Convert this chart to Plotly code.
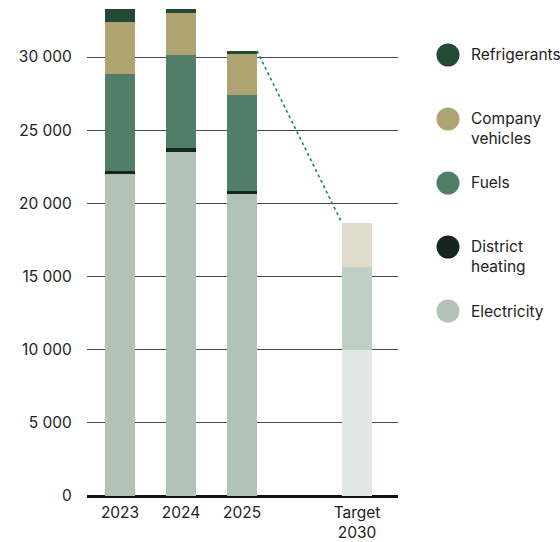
import plotly.graph_objects as go

# Emissions by source (tCO2e)
years = ["2023", "2024", "2025"]
electricity = [22000, 23510, 20640]
district_heating = [215, 280, 210]
fuels = [6650, 6350, 6560]
company_vehicles = [3530, 2870, 2800]
refrigerants = [1000, 400, 210]

# 2030 target split
target_label = "Target<br>2030"
target_parts = [10000, 5650, 3000]

series_names = ["Electricity", "District heating", "Fuels", "Company vehicles", "Refrigerants"]
series_values = [electricity, district_heating, fuels, company_vehicles, refrigerants]
series_colors = ["#b1c3b9", "#14271e", "#517e69", "#b0a372", "#234a35"]
target_colors = ["#e2e8e5", "#c0cfc6", "#dfdccb"]

# horizontal slots for the bars
year_slots = [0, 1, 2]
target_slot = 3.885
bar_w = 0.492

FONT = "Inter"
FS = 15.5
TXT = "#222222"

W, H = 560, 542
ML, MR, MT, MB = 87, 162, 9, 46
PW, PH = W - ML - MR, H - MT - MB

fig = go.Figure()

for name, vals, col in zip(series_names, series_values, series_colors):
    fig.add_trace(go.Bar(
        x=year_slots, y=vals, name=name, marker=dict(color=col, line=dict(width=0)),
        width=bar_w, showlegend=False, hoverinfo="y+name",
    ))

for part, col in zip(target_parts, target_colors):
    fig.add_trace(go.Bar(
        x=[target_slot], y=[part], marker=dict(color=col, line=dict(width=0)),
        width=bar_w, showlegend=False, hoverinfo="y",
    ))

# dashed connector from the latest year to the target
last_total = sum(v[-1] for v in series_values)
target_total = sum(target_parts)
fig.add_trace(go.Scatter(
    x=[year_slots[-1] + bar_w / 2, target_slot - bar_w / 2],
    y=[last_total, target_total],
    mode="lines", line=dict(color="#1b8a5a", width=1.6, dash="3px,3px"),
    showlegend=False, hoverinfo="skip",
))

# legend: circles with labels, top entry first; the first text line sits level with the circle
legend_items = list(zip(series_names, series_colors))[::-1]
legend_text = ["Refrigerants", "Company<br>vehicles", "Fuels", "District<br>heating", "Electricity"]
y0_px, step_px = 55, 64
line_px = 19.5
r = 11.5
for i, ((name, col), txt) in enumerate(zip(legend_items, legend_text)):
    cy = y0_px + i * step_px
    n_lines = txt.count("<br>") + 1
    ty = cy + (n_lines - 1) * line_px / 2
    fig.add_shape(
        type="circle", xref="paper", yref="paper",
        x0=(448 - r - ML) / PW, x1=(448 + r - ML) / PW,
        y0=(H - MB - cy - r) / PH, y1=(H - MB - cy + r) / PH,
        fillcolor=col, line=dict(width=0), layer="above",
    )
    fig.add_annotation(
        xref="paper", yref="paper",
        x=(469 - ML) / PW, y=(H - MB - ty) / PH,
        text=txt, showarrow=False, xanchor="left", yanchor="middle",
        align="left", font=dict(family=FONT, size=FS, color=TXT),
    )

fig.update_layout(
    width=W, height=H,
    margin=dict(l=ML, r=MR, t=MT, b=MB),
    barmode="stack",
    plot_bgcolor="white", paper_bgcolor="white",
    separators=". ",
    font=dict(family=FONT, size=FS, color=TXT),
    xaxis=dict(
        range=[-0.541, 4.557], showgrid=False, zeroline=False, automargin=False,
        tickmode="array", tickvals=year_slots + [target_slot],
        ticktext=years + [target_label],
        ticks="outside", ticklen=2, tickcolor="rgba(0,0,0,0)",
        tickfont=dict(family=FONT, size=FS, color=TXT),
        showline=False, fixedrange=True,
    ),
    yaxis=dict(
        range=[0, 33280], tickmode="linear", tick0=0, dtick=5000, automargin=False,
        tickformat=",d", showgrid=True, gridcolor="#4a4a4a", gridwidth=1,
        zeroline=True, zerolinecolor="#111111", zerolinewidth=2.5,
        ticks="outside", ticklen=11, tickcolor="rgba(0,0,0,0)",
        tickfont=dict(family=FONT, size=FS, color=TXT),
        showline=False, fixedrange=True,
    ),
    bargap=0,
)

fig.write_html("out.html")
